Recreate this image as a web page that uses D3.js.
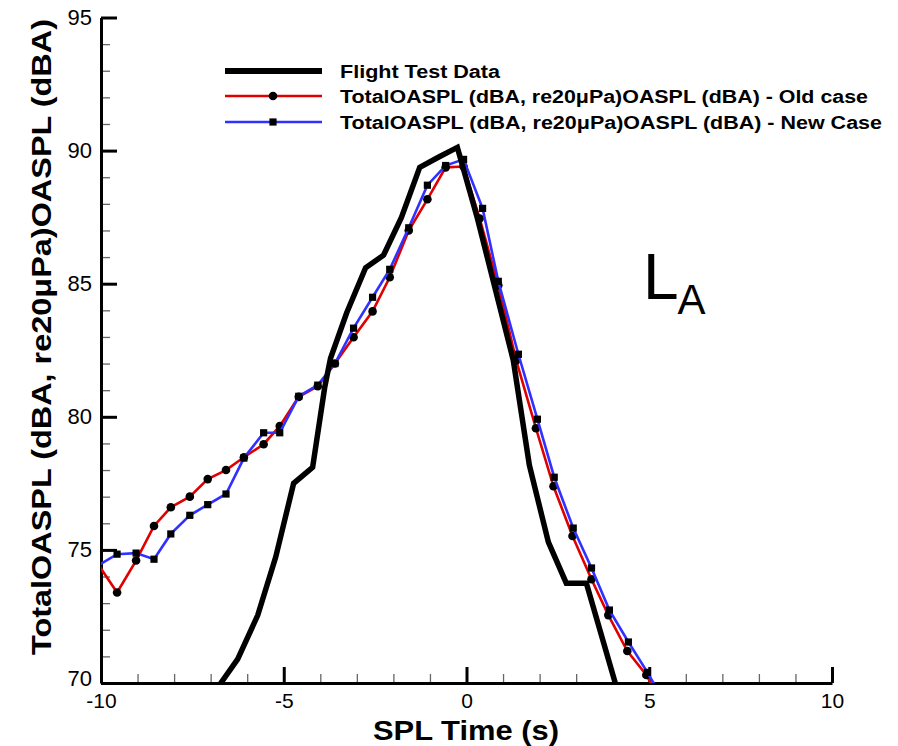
<!DOCTYPE html>
<html>
<head>
<meta charset="utf-8">
<script src="https://cdn.jsdelivr.net/npm/d3@7/dist/d3.min.js"></script>
<style>
  body { margin: 0; background: #fff; }
  svg text { font-family: "Liberation Sans", Arial, sans-serif; }
</style>
</head>
<body>
<script>
// flight test (thick black line)
const flightTime  = [-6.95, -6.26, -5.71, -5.22, -4.73, -4.21, -3.88, -3.72, -3.28, -2.76, -2.27, -1.78, -1.28, -0.77, -0.25, 0.30, 1.28, 1.72, 2.24, 2.73, 3.28, 4.07, 4.30];
const flightOASPL = [69.55, 70.9, 72.55, 74.73, 77.5, 78.1, 81.1, 82.2, 83.9, 85.6, 86.07, 87.49, 89.37, 89.75, 90.12, 87.45, 82.12, 78.18, 75.29, 73.75, 73.75, 70.0, 68.9];

// old case (red, circles)
const oldTime  = [-10.1, -9.56, -9.04, -8.55, -8.09, -7.57, -7.08, -6.58, -6.09, -5.55, -5.11, -4.59, -4.07, -3.6, -3.09, -2.57, -2.10, -1.58, -1.07, -0.57, -0.08, 0.36, 0.87, 1.36, 1.90, 2.38, 2.90, 3.42, 3.88, 4.40, 4.92, 5.45];
const oldOASPL = [74.5, 73.4, 74.6, 75.9, 76.6, 77.0, 77.66, 78.0, 78.48, 78.97, 79.65, 80.75, 81.15, 82.0, 82.99, 83.96, 85.24, 87.0, 88.17, 89.37, 89.4, 87.45, 84.94, 82.12, 79.57, 77.39, 75.52, 73.9, 72.55, 71.2, 70.3, 69.0];

// new case (blue, squares)
const newTime  = [-10.1, -9.56, -9.04, -8.55, -8.09, -7.57, -7.08, -6.58, -6.09, -5.55, -5.11, -4.59, -4.07, -3.6, -3.09, -2.57, -2.10, -1.58, -1.07, -0.57, -0.08, 0.44, 0.87, 1.42, 1.94, 2.40, 2.92, 3.42, 3.91, 4.43, 4.95, 5.45];
const newOASPL = [74.4, 74.84, 74.88, 74.65, 75.6, 76.3, 76.7, 77.1, 78.45, 79.4, 79.4, 80.77, 81.19, 82.0, 83.33, 84.49, 85.54, 87.1, 88.7, 89.44, 89.67, 87.83, 85.09, 82.35, 79.91, 77.73, 75.82, 74.32, 72.74, 71.54, 70.4, 69.2];

const xTicks = [-10, -5, 0, 5, 10];
const yTicks = [70, 75, 80, 85, 90, 95];
const legendLabels = [
    "Flight Test Data",
    "TotalOASPL (dBA, re20\u03bcPa)OASPL (dBA) - Old case",
    "TotalOASPL (dBA, re20\u03bcPa)OASPL (dBA) - New Case"
];

const width = 898;
const height = 746;

const svg = d3.select("body")
    .append("svg")
    .attr("width", width)
    .attr("height", height);

const xScale = d3.scaleLinear().domain([-10, 10]).range([101, 832]);
const yScale = d3.scaleLinear().domain([70, 95]).range([683, 17.5]);

svg.append("clipPath")
    .attr("id", "plotClip")
    .append("rect")
    .attr("x", 101).attr("y", 17)
    .attr("width", 731).attr("height", 666);

// minor ticks
svg.append("g")
    .attr("transform", "translate(0,683)")
    .call(d3.axisBottom(xScale).tickValues(d3.range(-10, 11)).tickSize(-9).tickFormat(""))
    .call(g => g.select(".domain").remove())
    .selectAll("line").attr("stroke", "#666").attr("stroke-width", 1.3);

svg.append("g")
    .attr("transform", "translate(101,0)")
    .call(d3.axisLeft(yScale).tickValues(d3.range(70, 96)).tickSize(-9).tickFormat(""))
    .call(g => g.select(".domain").remove())
    .selectAll("line").attr("stroke", "#666").attr("stroke-width", 1.3);

// major ticks + labels (plain hyphen for negatives)
const xAxis = svg.append("g")
    .attr("transform", "translate(0,683)")
    .call(d3.axisBottom(xScale).tickValues(xTicks).tickSize(-16).tickSizeOuter(0).tickFormat(d => String(d)));
xAxis.select(".domain").attr("stroke-width", 3);
xAxis.selectAll("line").attr("stroke-width", 3);
xAxis.selectAll("text")
    .attr("y", 25).attr("dy", 0)
    .style("font-size", "21px").attr("fill", "#000");

const yAxis = svg.append("g")
    .attr("transform", "translate(101,0)")
    .call(d3.axisLeft(yScale).tickValues(yTicks).tickSize(-16).tickSizeOuter(0).tickFormat(d => String(d)));
yAxis.select(".domain").attr("stroke-width", 3);
yAxis.selectAll("line").attr("stroke-width", 3);
yAxis.selectAll("text")
    .attr("x", -9)
    .style("font-size", "22px").attr("fill", "#000");
// the 70 label sits a bit above the corner
yAxis.selectAll(".tick").filter(d => d === 70).select("text").attr("dy", "0.1em");

// axis titles
svg.append("text")
    .attr("x", 466).attr("y", 740)
    .attr("text-anchor", "middle")
    .attr("textLength", 186)
    .attr("lengthAdjust", "spacingAndGlyphs")
    .style("font-size", "28px").style("font-weight", "bold")
    .text("SPL Time (s)");

svg.append("text")
    .attr("transform", "translate(51,337) rotate(-90)")
    .attr("text-anchor", "middle")
    .attr("textLength", 636)
    .attr("lengthAdjust", "spacingAndGlyphs")
    .style("font-size", "28px").style("font-weight", "bold")
    .text("TotalOASPL (dBA, re20\u03bcPa)OASPL (dBA)");

// data
const plot = svg.append("g").attr("clip-path", "url(#plotClip)");

const line = d3.line().x(d => xScale(d[0])).y(d => yScale(d[1]));

const oldData = oldTime.map((t, i) => [t, oldOASPL[i]]);
const newData = newTime.map((t, i) => [t, newOASPL[i]]);
const flightData = flightTime.map((t, i) => [t, flightOASPL[i]]);

plot.append("path")
    .datum(oldData)
    .attr("d", line)
    .attr("fill", "none")
    .attr("stroke", "#e00000")
    .attr("stroke-width", 2.6);

plot.selectAll(".oldPt")
    .data(oldData)
    .enter().append("circle")
    .attr("class", "oldPt")
    .attr("cx", d => xScale(d[0]))
    .attr("cy", d => yScale(d[1]))
    .attr("r", 4.3)
    .attr("fill", "#000");

plot.append("path")
    .datum(newData)
    .attr("d", line)
    .attr("fill", "none")
    .attr("stroke", "#3030ff")
    .attr("stroke-width", 2.6);

plot.selectAll(".newPt")
    .data(newData)
    .enter().append("rect")
    .attr("class", "newPt")
    .attr("x", d => xScale(d[0]) - 3.6)
    .attr("y", d => yScale(d[1]) - 3.6)
    .attr("width", 7.2)
    .attr("height", 7.2)
    .attr("fill", "#000");

plot.append("path")
    .datum(flightData)
    .attr("d", line)
    .attr("fill", "none")
    .attr("stroke", "#000")
    .attr("stroke-width", 5.5)
    .attr("stroke-linejoin", "miter")
    .attr("stroke-miterlimit", 3);

// legend
const legendY = [71, 96, 122];
const legendLen = [160, 528, 542];
const legend = svg.append("g");
legend.append("line")
    .attr("x1", 225).attr("x2", 322).attr("y1", legendY[0]).attr("y2", legendY[0])
    .attr("stroke", "#000").attr("stroke-width", 6);
legend.append("line")
    .attr("x1", 225).attr("x2", 322).attr("y1", legendY[1]).attr("y2", legendY[1])
    .attr("stroke", "#e00000").attr("stroke-width", 2.6);
legend.append("circle")
    .attr("cx", 273).attr("cy", legendY[1]).attr("r", 4.3).attr("fill", "#000");
legend.append("line")
    .attr("x1", 225).attr("x2", 322).attr("y1", legendY[2]).attr("y2", legendY[2])
    .attr("stroke", "#3030ff").attr("stroke-width", 2.6);
legend.append("rect")
    .attr("x", 273 - 3.6).attr("y", legendY[2] - 3.6).attr("width", 7.2).attr("height", 7.2).attr("fill", "#000");

legend.selectAll(".legText")
    .data(legendLabels)
    .enter().append("text")
    .attr("class", "legText")
    .attr("x", 340)
    .attr("y", (d, i) => legendY[i] + 6.5)
    .attr("textLength", (d, i) => legendLen[i])
    .attr("lengthAdjust", "spacingAndGlyphs")
    .style("font-size", "18px").style("font-weight", "bold")
    .text(d => d);

// L_A annotation
const note = svg.append("text").attr("x", 643).attr("y", 299);
note.append("tspan").style("font-size", "64px").text("L");
note.append("tspan").attr("dy", 15).attr("dx", -1).style("font-size", "42px").text("A");
</script>
</body>
</html>
